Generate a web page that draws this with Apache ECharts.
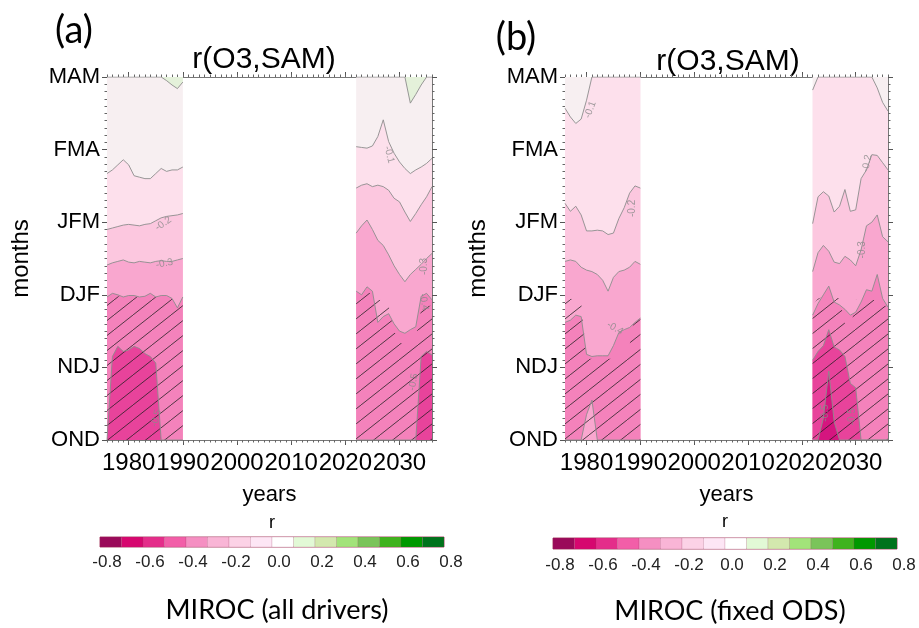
<!DOCTYPE html>
<html>
<head>
<meta charset="utf-8">
<title>r(O3,SAM)</title>
<script src="https://cdn.jsdelivr.net/npm/echarts@6/dist/echarts.min.js"></script>
<style>
  html, body { margin: 0; padding: 0; background: #fff; }
  #chart { width: 919px; height: 628px; }
</style>
</head>
<body>
<div id="chart"></div>
<script>
// years of the two data blocks
var yearsL = [1976, 1977, 1978, 1979, 1980, 1981, 1982, 1983, 1984, 1985, 1986, 1987, 1988, 1989, 1990];
var yearsR = [2022, 2023, 2024, 2025, 2026, 2027, 2028, 2029, 2030, 2031, 2032, 2033, 2034, 2035, 2036];
var monthLabels = ['OND', 'NDJ', 'DJF', 'JFM', 'FMA', 'MAM'];
var yearTicks = [1980, 1990, 2000, 2010, 2020, 2030];
var full = [5, 5, 5, 5, 5, 5, 5, 5, 5, 5, 5, 5, 5, 5, 5];

// (a) all drivers : contour positions (month index) per year
var a_m01L = [3.67, 3.72, 3.79, 3.86, 3.79, 3.64, 3.62, 3.60, 3.60, 3.67, 3.74, 3.70, 3.72, 3.72, 3.76];
var a_m02L = [2.90, 2.92, 2.94, 2.96, 2.97, 2.96, 2.95, 2.97, 2.98, 3.02, 3.06, 3.08, 3.09, 3.10, 3.12];
var a_m03L = [2.41, 2.44, 2.46, 2.48, 2.45, 2.44, 2.46, 2.45, 2.44, 2.46, 2.47, 2.46, 2.46, 2.48, 2.50];
var a_m04L = [1.97, 2.02, 2.00, 1.97, 1.99, 1.99, 1.97, 1.98, 2.02, 1.97, 1.99, 1.99, 1.95, 1.82, 1.97];
var a_m05L = [0, 1.15, 1.29, 1.22, 1.24, 1.29, 1.26, 1.19, 1.15, 1.06, 0, 0, 0, 0, 0];
var a_posL = [5, 5, 5, 5, 5, 5, 5, 5, 5, 5, 5, 4.95, 4.89, 4.84, 4.93];
var a_hatL = [1.98, 2.0, 1.98, 1.97, 1.98, 1.98, 1.97, 1.98, 2.0, 1.97, 1.98, 1.98, 1.95, 1.85, 1.97];

var a_m01R = [4.04, 4.03, 4.02, 4.05, 4.18, 4.41, 4.11, 3.95, 3.83, 3.74, 3.67, 3.72, 3.76, 3.81, 3.88];
var a_m02R = [3.47, 3.51, 3.53, 3.49, 3.51, 3.49, 3.44, 3.33, 3.28, 3.14, 3.01, 3.12, 3.24, 3.35, 3.49];
var a_m03R = [2.85, 2.95, 3.03, 2.90, 2.75, 2.68, 2.55, 2.40, 2.28, 2.18, 2.28, 2.35, 2.42, 2.50, 2.57];
var a_m04R = [2.05, 2.00, 2.11, 2.05, 1.62, 1.70, 1.74, 1.60, 1.50, 1.47, 1.52, 1.56, 1.98, 2.02, 1.93];
var a_m05R = [0, 0, 0, 0, 0, 0, 0, 0, 0, 0, 0, 0, 1.15, 1.22, 1.17];
var a_posR = [5, 5, 5, 5, 5, 5, 5, 5, 5, 5, 4.64, 4.76, 4.89, 5, 5];
var a_hatR = [2.05, 2.0, 2.05, 2.0, 1.95, 1.9, 1.85, 1.5, 1.35, 1.3, 1.3, 1.4, 1.8, 1.85, 1.85];

// (b) fixed ODS
var b_m01L = [4.57, 4.45, 4.36, 4.42, 4.68, 5, 5, 5, 5, 5, 5, 5, 5, 5, 5];
var b_m02L = [3.26, 3.15, 3.22, 3.10, 2.88, 2.88, 2.89, 2.88, 2.83, 2.85, 3.05, 3.20, 3.40, 3.50, 3.47];
var b_m03L = [2.46, 2.48, 2.46, 2.38, 2.34, 2.32, 2.28, 2.20, 2.05, 2.24, 2.32, 2.34, 2.38, 2.46, 2.42];
var b_m04L = [1.62, 1.65, 1.72, 1.70, 1.18, 1.15, 1.16, 1.16, 1.16, 1.30, 1.48, 1.52, 1.55, 1.62, 1.68];
var b_islL = [0, 0, 0, 0, 0.35, 0.55, 0, 0, 0, 0, 0, 0, 0, 0, 0];
var b_hatL = [1.95, 1.95, 1.92, 1.90, 1.12, 1.12, 1.12, 1.12, 1.12, 1.12, 1.15, 1.2, 1.3, 1.75, 1.85];

var b_m01R = [4.82, 5, 5, 5, 5, 5, 5, 5, 5, 5, 5, 5, 4.85, 4.65, 4.53];
var b_m02R = [2.98, 3.35, 3.42, 3.36, 3.14, 3.22, 3.45, 3.15, 3.17, 3.60, 3.72, 3.93, 3.92, 3.82, 3.72];
var b_m03R = [2.32, 2.58, 2.68, 2.60, 2.45, 2.43, 2.53, 2.48, 2.40, 2.62, 2.95, 3.00, 3.10, 2.80, 2.73];
var b_m04R = [1.72, 1.88, 2.00, 2.12, 1.90, 1.86, 1.80, 1.72, 1.76, 1.90, 2.07, 2.05, 2.28, 1.95, 1.83];
var b_m05R = [1.10, 1.22, 1.30, 1.52, 1.28, 1.24, 1.15, 0.78, 0.72, 0, 0, 0, 0, 0, 0];
var b_m06R = [0, 0, 0.3, 0.95, 0.25, 0, 0, 0, 0, 0, 0, 0, 0, 0, 0];
var b_hatR = [1.85, 1.95, 1.97, 1.97, 1.97, 1.95, 1.6, 1.5, 1.93, 1.95, 1.95, 1.95, 1.9, 1.85, 1.85];

// contour labels [year, month index, text, rotation]
var labelsA = [[1986.4, 2.98, '-0.2', 35], [1986.6, 2.43, '-0.3', 12], [1985.1, 0.3, '-0.5', 75],
  [2028.1, 3.93, '-0.1', -75], [2034.6, 2.39, '-0.3', 90], [2034.5, 1.9, '-0.4', -80], [2032.6, 0.8, '-0.5', 80]];
var labelsB = [[1980.7, 4.55, '-0.1', 70], [1988.4, 3.19, '-0.2', 90], [1985.3, 1.54, '-0.4', -30],
  [2032.1, 3.81, '-0.2', 80], [2031.2, 2.62, '-0.3', 90], [2024.3, 0.37, '-0.5', 90], [2029.3, 0.32, '-0.5', 90]];

// colour bar
var cbTicks = [-0.8, 0.8];
var cbColors = ['#9a0a5a', '#d6076f', '#e42d8a', '#f25ea8', '#f58fc2', '#f9b5d6', '#fcd2e6', '#fde6f5',
  '#ffffff', '#e2f9d6', '#d3e8ae', '#a2e37a', '#7ac45a', '#40b31e', '#009900', '#00731c'];

// shades seen inside the plots
var c01 = '#f7eff1', c12 = '#fde0ec', c23 = '#fcc7df', c34 = '#f9a7cf',
    c45 = '#f482bb', c56 = '#e8439b', c67 = '#d5157f', cpos = '#e4f1da';

var hatch = document.createElement('canvas');
hatch.width = 19; hatch.height = 15;
(function () {
  var ctx = hatch.getContext('2d');
  ctx.strokeStyle = 'rgba(30,30,30,0.85)';
  ctx.lineWidth = 0.9;
  [-19, 0, 19].forEach(function (dx) {
    ctx.beginPath();
    ctx.moveTo(dx, 15);
    ctx.lineTo(dx + 19, 0);
    ctx.stroke();
  });
})();

function pts(years, vals) {
  return years.map(function (y, i) { return [y, vals[i]]; });
}

function band(p, years, vals, color, line, origin) {
  return {
    type: 'line', xAxisIndex: 4 * p, yAxisIndex: 2 * p,
    data: pts(years, vals), symbol: 'none', smooth: false, silent: true,
    lineStyle: line ? { color: '#8c8c8c', width: 0.9 } : { width: 0 },
    areaStyle: { color: color, opacity: 1, origin: origin || 'start' }
  };
}

function contourLabels(p, list) {
  return {
    type: 'scatter', xAxisIndex: 4 * p, yAxisIndex: 2 * p, symbolSize: 1, silent: true,
    itemStyle: { color: 'rgba(0,0,0,0)' },
    data: list.map(function (d) {
      return { value: [d[0], d[1]], name: d[2], label: { rotate: d[3] } };
    }),
    label: { show: true, position: 'inside', formatter: '{b}', color: '#8a8a8a', fontSize: 10, fontFamily: 'Liberation Sans' },
    z: 5
  };
}

var series = [];
// panel (a)
[[yearsL, a_m01L, a_m02L, a_m03L, a_m04L, a_m05L, a_posL, a_hatL],
 [yearsR, a_m01R, a_m02R, a_m03R, a_m04R, a_m05R, a_posR, a_hatR]].forEach(function (b) {
  series.push(band(0, b[0], full, c01, false));
  series.push(band(0, b[0], b[1], c12, true));
  series.push(band(0, b[0], b[2], c23, true));
  series.push(band(0, b[0], b[3], c34, true));
  series.push(band(0, b[0], b[4], c45, true));
  series.push(band(0, b[0], b[5], c56, true));
  series.push(band(0, b[0], b[6], cpos, true, 'end'));
  series.push(band(0, b[0], b[7], { image: hatch, repeat: 'repeat' }, false));
});
// panel (b)
series.push(band(1, yearsL, full, c01, false));
series.push(band(1, yearsL, b_m01L, c12, true));
series.push(band(1, yearsL, b_m02L, c23, true));
series.push(band(1, yearsL, b_m03L, c34, true));
series.push(band(1, yearsL, b_m04L, c45, true));
series.push(band(1, yearsL, b_islL, c34, true));
series.push(band(1, yearsL, b_hatL, { image: hatch, repeat: 'repeat' }, false));
series.push(band(1, yearsR, full, c01, false));
series.push(band(1, yearsR, b_m01R, c12, true));
series.push(band(1, yearsR, b_m02R, c23, true));
series.push(band(1, yearsR, b_m03R, c34, true));
series.push(band(1, yearsR, b_m04R, c45, true));
series.push(band(1, yearsR, b_m05R, c56, true));
series.push(band(1, yearsR, b_m06R, c67, true));
series.push(band(1, yearsR, b_hatR, { image: hatch, repeat: 'repeat' }, false));
series.push(contourLabels(0, labelsA));
series.push(contourLabels(1, labelsB));

// colour bars
[8, 9].forEach(function (xi, k) {
  series.push({
    type: 'custom', xAxisIndex: xi, yAxisIndex: 4 + k, silent: true,
    data: cbColors.map(function (c, i) { return [-0.8 + i * 0.1, -0.7 + i * 0.1, i]; }),
    renderItem: function (params, api) {
      var p0 = api.coord([api.value(0), 1]);
      var p1 = api.coord([api.value(1), 0]);
      return {
        type: 'rect',
        shape: { x: p0[0], y: p0[1], width: p1[0] - p0[0], height: p1[1] - p0[1] },
        style: { fill: cbColors[api.value(2)], stroke: 'rgba(150,60,90,0.35)', lineWidth: 0.5 }
      };
    }
  });
});

var axisFont = 'Liberation Sans';

function panelX(grid) {
  return [
    { gridIndex: grid, type: 'value', min: 1976, max: 2036, position: 'bottom',
      name: 'years', nameLocation: 'middle', nameGap: 44,
      nameTextStyle: { fontSize: 22, color: '#000', fontFamily: axisFont },
      axisLine: { show: true, lineStyle: { color: '#777', width: 1 } },
      axisTick: { show: true, customValues: yearTicks, length: 5, lineStyle: { color: '#555' } },
      axisLabel: { customValues: yearTicks, fontSize: 24, color: '#000', fontFamily: axisFont, margin: 11,
        hideOverlap: false, formatter: function (v) { return String(v); } },
      splitLine: { show: false } },
    { gridIndex: grid, type: 'value', min: 1976, max: 2036, interval: 1, position: 'bottom',
      axisLine: { show: false }, axisLabel: { show: false }, splitLine: { show: false },
      axisTick: { show: true, length: 2.5, lineStyle: { color: '#666' } } },
    { gridIndex: grid, type: 'value', min: 1976, max: 2036, position: 'top',
      axisLine: { show: true, lineStyle: { color: '#777', width: 1 } },
      axisTick: { show: true, customValues: yearTicks, length: 5, lineStyle: { color: '#555' } },
      axisLabel: { show: false }, splitLine: { show: false } },
    { gridIndex: grid, type: 'value', min: 1976, max: 2036, interval: 1, position: 'top',
      axisLine: { show: false }, axisLabel: { show: false }, splitLine: { show: false },
      axisTick: { show: true, length: 2.5, lineStyle: { color: '#666' } } }
  ];
}

function panelY(grid, gap) {
  var common = {
    gridIndex: grid, type: 'value', min: 0, max: 5, interval: 1,
    axisLine: { show: true, lineStyle: { color: '#777', width: 1 } },
    axisTick: { show: true, length: 5, lineStyle: { color: '#555' } },
    minorTick: { show: true, splitNumber: 10, length: 2.5, lineStyle: { color: '#666' } },
    splitLine: { show: false }
  };
  return [
    Object.assign({}, common, {
      position: 'left', name: 'months', nameLocation: 'middle', nameGap: gap,
      nameTextStyle: { fontSize: 24, color: '#000', fontFamily: axisFont },
      axisLabel: { fontSize: 22, color: '#000', fontFamily: axisFont, margin: 7,
        formatter: function (v) { return monthLabels[v]; } }
    }),
    Object.assign({}, common, { position: 'right', axisLabel: { show: false } })
  ];
}

function cbX(grid, margin) {
  return { gridIndex: grid, type: 'value', min: cbTicks[0], max: cbTicks[1], interval: 0.2,
    axisLine: { show: false }, axisTick: { show: false }, splitLine: { show: false },
    axisLabel: { fontSize: 17, color: '#222', fontFamily: axisFont, margin: margin, padding: [0, 0, 0, 14],
      formatter: function (v) { return v.toFixed(1); } } };
}
function cbY(grid) {
  return { gridIndex: grid, type: 'value', min: 0, max: 1, show: false };
}

var chart = echarts.init(document.getElementById('chart'), null, { renderer: 'canvas' });
chart.setOption({
  backgroundColor: '#fff',
  animation: false,
  grid: [
    { left: 107, top: 77, width: 325, height: 363 },
    { left: 565, top: 77, width: 323, height: 363 },
    { left: 100, top: 537, width: 344, height: 10, show: true, borderColor: '#b8607f', borderWidth: 1 },
    { left: 553, top: 538, width: 344, height: 11, show: true, borderColor: '#b8607f', borderWidth: 1 }
  ],
  xAxis: panelX(0).concat(panelX(1)).concat([cbX(2, 7), cbX(3, 8)]),
  yAxis: panelY(0, 74).concat(panelY(1, 75)).concat([cbY(2), cbY(3)]),
  series: series,
  graphic: [
    { type: 'text', x: 74, y: 31, style: { text: '(a)', font: '38px Lato', fill: '#000', textAlign: 'center', textVerticalAlign: 'middle' } },
    { type: 'text', x: 516, y: 38, style: { text: '(b)', font: '38px Lato', fill: '#000', textAlign: 'center', textVerticalAlign: 'middle' } },
    { type: 'text', x: 264, y: 60, style: { text: 'r(O3,SAM)', font: '30px "Liberation Sans"', fill: '#000', textAlign: 'center', textVerticalAlign: 'middle' } },
    { type: 'text', x: 728, y: 62, style: { text: 'r(O3,SAM)', font: '30px "Liberation Sans"', fill: '#000', textAlign: 'center', textVerticalAlign: 'middle' } },
    { type: 'text', x: 272, y: 523, style: { text: 'r', font: '18px "Liberation Sans"', fill: '#000', textAlign: 'center', textVerticalAlign: 'middle' } },
    { type: 'text', x: 725, y: 522, style: { text: 'r', font: '18px "Liberation Sans"', fill: '#000', textAlign: 'center', textVerticalAlign: 'middle' } },
    { type: 'text', x: 277, y: 610, style: { text: 'MIROC (all drivers)', font: '27px Lato', fill: '#000', textAlign: 'center', textVerticalAlign: 'middle' } },
    { type: 'text', x: 730, y: 611, style: { text: 'MIROC (fixed ODS)', font: '27px Lato', fill: '#000', textAlign: 'center', textVerticalAlign: 'middle' } }
  ]
});
</script>
</body>
</html>
